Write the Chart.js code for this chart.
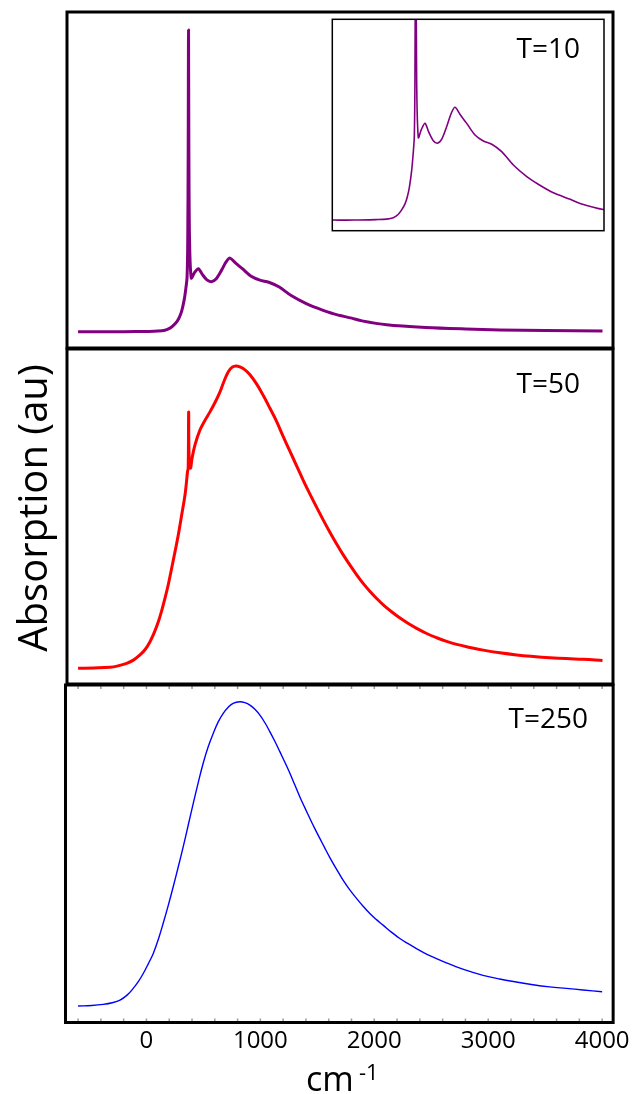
<!DOCTYPE html>
<html><head><meta charset="utf-8">
<script src="https://cdn.jsdelivr.net/npm/chart.js@4.4.0/dist/chart.umd.min.js"></script>
<style>
html,body{margin:0;padding:0;background:#fff;}
#wrap{position:relative;width:634px;height:1094px;overflow:hidden;}
#wrap canvas{position:absolute;left:0;top:0;}
</style></head><body>
<div id="wrap">
<canvas id="c10" width="634" height="1094"></canvas>
<canvas id="c50" width="634" height="1094"></canvas>
<canvas id="c250" width="634" height="1094"></canvas>
<canvas id="cInset" width="634" height="1094"></canvas>
</div>
<script>
// ---- data (wavenumber in cm^-1, absorption in arbitrary units) ----
const xT10 = [-600,-400,-200,0,100,162,206,239,270,291,310,332,346,356,362,366,369,372,378,393,420,455,490,530,569,610,660,700,733,780,841,918,995,1073,1165,1273,1397,1500,1643,1800,1890,2106,2450,2800,3100,3500,4000];
const yT10 = [0,0,0,0.001,0.002,0.005,0.012,0.022,0.035,0.05,0.07,0.108,0.145,0.18,0.3,0.6,1.0,0.6,0.3,0.178,0.195,0.209,0.19,0.172,0.166,0.175,0.205,0.232,0.244,0.228,0.209,0.184,0.171,0.164,0.148,0.119,0.094,0.078,0.059,0.045,0.036,0.023,0.014,0.009,0.006,0.004,0.002];

const xT50 = [-600,-460,-320,-250,-174,-115,-57,-10,31,68,104,133,162,192,221,250,279,308,338,352,360,366,370,374,386,400,425,469,513,557,601,645,682,718,752,785,825,864,908,967,1025,1083,1142,1200,1259,1318,1376,1434,1493,1551,1610,1668,1726,1785,1844,1902,1961,2019,2077,2150,2224,2297,2370,2458,2546,2633,2721,2838,2954,3100,3247,3393,3539,3685,3832,4000];
const yT50 = [0,0.001,0.0033,0.008,0.0165,0.027,0.044,0.063,0.088,0.118,0.154,0.19,0.231,0.278,0.331,0.385,0.441,0.505,0.573,0.62,0.65,0.662,0.847,0.7,0.662,0.695,0.738,0.788,0.82,0.848,0.879,0.914,0.951,0.981,0.996,1.0,0.996,0.987,0.971,0.94,0.902,0.86,0.816,0.766,0.717,0.669,0.621,0.576,0.532,0.49,0.449,0.411,0.375,0.341,0.309,0.28,0.254,0.231,0.21,0.187,0.166,0.148,0.132,0.115,0.101,0.089,0.079,0.069,0.06,0.051,0.044,0.039,0.035,0.032,0.03,0.026];

const xT250 = [-600,-480,-379,-300,-232,-170,-116,-70,-28,15,60,104,147,191,235,279,323,367,411,455,498,542,586,630,674,718,761,820,864,908,952,996,1040,1083,1127,1171,1215,1259,1302,1346,1390,1434,1478,1522,1566,1610,1668,1726,1785,1844,1902,1961,2019,2077,2150,2224,2297,2370,2458,2546,2633,2721,2838,2954,3100,3247,3393,3539,3685,3832,4000];
const yT250 = [0,0.002,0.0056,0.011,0.0197,0.036,0.058,0.081,0.107,0.138,0.173,0.219,0.272,0.33,0.392,0.457,0.524,0.595,0.666,0.735,0.798,0.852,0.896,0.934,0.962,0.982,0.995,1.0,0.997,0.989,0.975,0.956,0.931,0.902,0.87,0.836,0.801,0.765,0.727,0.688,0.652,0.617,0.583,0.551,0.519,0.488,0.45,0.414,0.382,0.354,0.328,0.304,0.284,0.266,0.243,0.222,0.205,0.189,0.171,0.156,0.142,0.129,0.114,0.101,0.089,0.079,0.07,0.063,0.058,0.053,0.047];

const xTickLabels = [0,1000,2000,3000,4000];
const panelLabels = ['T=10','T=50','T=250'];
const yTitle = 'Absorption (au)';
const xTitle = ['cm','-1'];

// ---- helpers ----
const pts = (xs, ys) => xs.map((x, i) => ({x, y: ys[i]}));
const FONT = "'Open Sans', 'DejaVu Sans', sans-serif";

const framePlugin = {
  id: 'frame',
  beforeDatasetsDraw(chart, args, o) {
    if (o.background) {
      const a = chart.chartArea, ctx = chart.ctx;
      ctx.save(); ctx.fillStyle = o.background;
      ctx.fillRect(a.left, a.top, a.right - a.left, a.bottom - a.top);
      ctx.restore();
    }
  },
  afterDatasetsDraw(chart, args, o) {
    const a = chart.chartArea, ctx = chart.ctx;
    ctx.save();
    if (o.minor) {
      const xs = chart.scales.x;
      ctx.strokeStyle = '#9a9a9a'; ctx.lineWidth = 1.5;
      for (let v = -600; v <= 4000; v += 200) {
        const px = xs.getPixelForValue(v);
        ctx.beginPath();
        ctx.moveTo(px, a.bottom - 1); ctx.lineTo(px, a.bottom - 4);
        ctx.moveTo(px, a.top + 1); ctx.lineTo(px, a.top + 4);
        ctx.stroke();
      }
    }
    ctx.strokeStyle = '#000'; ctx.lineWidth = o.lineWidth || 3;
    ctx.strokeRect(a.left, a.top, a.right - a.left, a.bottom - a.top);
    (o.texts || []).forEach(t => {
      ctx.save();
      ctx.fillStyle = '#000';
      ctx.font = t.size + 'px ' + FONT;
      ctx.textAlign = t.align || 'left';
      ctx.textBaseline = 'alphabetic';
      ctx.translate(t.x, t.y);
      if (t.rotate) ctx.rotate(t.rotate);
      ctx.fillText(t.text, 0, 0);
      ctx.restore();
    });
    ctx.restore();
  }
};

function panel(id, cfg) {
  return new Chart(document.getElementById(id), {
    type: 'line',
    data: { datasets: [{
      data: pts(cfg.xs, cfg.ys),
      borderColor: cfg.color, borderWidth: cfg.width,
      pointRadius: 0, fill: false, tension: cfg.tension, borderJoinStyle: 'round'
    }]},
    options: {
      responsive: false, animation: false, devicePixelRatio: 1,
      layout: { padding: cfg.padding },
      plugins: { legend: {display: false}, tooltip: {enabled: false}, frame: cfg.frame },
      scales: {
        x: cfg.xAxis || { type: 'linear', display: false, min: cfg.xmin, max: cfg.xmax },
        y: { type: 'linear', display: false, min: cfg.ymin, max: cfg.ymax }
      }
    },
    plugins: [framePlugin]
  });
}

// Top panel T=10
panel('c10', {
  xs: xT10, ys: yT10, color: '#800080', width: 3, tension: 0.3,
  xmin: -697, xmax: 4092, ymin: -0.054, ymax: 1.06,
  padding: {left: 67, right: 634 - 613, top: 12, bottom: 1094 - 348},
  frame: { lineWidth: 3, texts: [
    {text: yTitle, x: 47, y: 508, size: 40, align: 'center', rotate: -Math.PI / 2}
  ]}
});

// Middle panel T=50
panel('c50', {
  xs: xT50, ys: yT50, color: '#ff0000', width: 3, tension: 0.4,
  xmin: -697, xmax: 4092, ymin: -0.052, ymax: 1.056,
  padding: {left: 67, right: 634 - 613, top: 349, bottom: 1094 - 684},
  frame: { lineWidth: 3, texts: [
    {text: panelLabels[1], x: 580, y: 392.5, size: 28, align: 'right'}
  ]}
});

// Bottom panel T=250 with x axis
panel('c250', {
  xs: xT250, ys: yT250, color: '#0000ff', width: 1.4, tension: 0.4,
  ymin: -0.054, ymax: 1.055,
  padding: {left: 65.5, right: 634 - 613.5, top: 685, bottom: 1094 - 1022.5 - 60},
  xAxis: {
    type: 'linear', min: -710.5, max: 4096.5, position: 'bottom',
    afterBuildTicks: s => { s.ticks = xTickLabels.map(v => ({value: v})); },
    afterFit: s => { s.height = 60; },
    ticks: { font: {family: FONT, size: 24}, color: '#000', padding: 4, maxRotation: 0, autoSkip: false,
             callback: v => String(v) },
    grid: { display: false, drawTicks: false },
    border: { display: false }
  },
  frame: { lineWidth: 3, minor: true, texts: [
    {text: panelLabels[2], x: 588, y: 728.3, size: 28, align: 'right'},
    {text: xTitle[0], x: 306, y: 1090.5, size: 34, align: 'left'},
    {text: xTitle[1], x: 359, y: 1080, size: 22, align: 'left'}
  ]}
});

// Inset of T=10
panel('cInset', {
  xs: xT10, ys: yT10, color: '#800080', width: 1.6, tension: 0.3,
  xmin: -403, xmax: 2112, ymin: -0.023, ymax: 0.434,
  padding: {left: 332.3, right: 634 - 604, top: 19.3, bottom: 1094 - 230.7},
  frame: { lineWidth: 1.5, background: '#fff', texts: [
    {text: panelLabels[0], x: 580, y: 58.3, size: 28, align: 'right'}
  ]}
});
</script>
</body></html>
